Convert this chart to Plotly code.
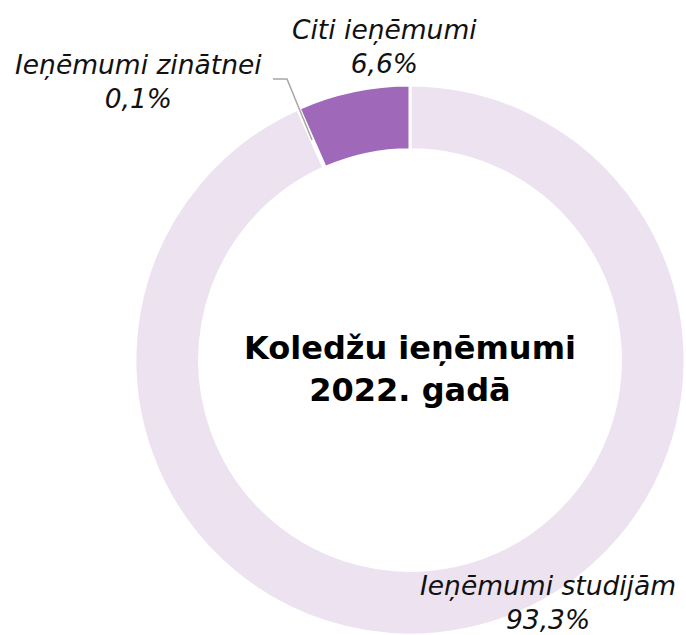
import plotly.graph_objects as go

labels = ["Ieņēmumi studijām", "Ieņēmumi zinātnei", "Citi ieņēmumi"]
values = [93.3, 0.1, 6.6]
value_text = ["93,3%", "0,1%", "6,6%"]
colors = ["#EDE2F0", "#FFFFFF", "#A068B9"]
center_title = "Koledžu ieņēmumi<br>2022. gadā"

W, H = 686, 635

fig = go.Figure(go.Pie(
    labels=labels, values=values, sort=False, direction="clockwise", rotation=0,
    hole=0.765, textinfo="none", hoverinfo="label+percent",
    marker=dict(colors=colors, line=dict(color="white", width=3)),
    domain=dict(x=[135 / W, 685 / W], y=[0, 550 / H]),
    showlegend=False,
))

font_lbl = dict(family="DejaVu Sans", size=26.5, color="#111111")
# label positions in pixels (x center, y center of the block)
pos = [(548, 602), (138, 82), (385, 46)]
for lab, vt, (px, py) in zip(labels, value_text, pos):
    fig.add_annotation(
        x=px / W, y=1 - py / H, xref="paper", yref="paper",
        text=f"<i>{lab}</i><br><i>{vt}</i>", showarrow=False,
        font=font_lbl, align="center", xanchor="center", yanchor="middle",
    )

fig.add_annotation(
    x=410 / W, y=1 - 369 / H, xref="paper", yref="paper",
    text=f"<b>{center_title}</b>", showarrow=False,
    font=dict(family="DejaVu Sans", size=32, color="#000000"),
    align="center", xanchor="center", yanchor="middle",
)

# leader line for the tiny slice
fig.add_shape(
    type="path", xref="paper", yref="paper",
    path=f"M {312 / W} {1 - 140 / H} L {287 / W} {1 - 79 / H} L {273 / W} {1 - 79 / H}",
    line=dict(color="#A6A6A6", width=1.5),
)

fig.update_layout(
    width=W, height=H, margin=dict(l=0, r=0, t=0, b=0),
    paper_bgcolor="white", plot_bgcolor="white",
)

fig.write_html(
    "out.html",
    config={"displayModeBar": False},
    post_script="document.body.style.margin='0';document.body.style.overflow='hidden';",
)
